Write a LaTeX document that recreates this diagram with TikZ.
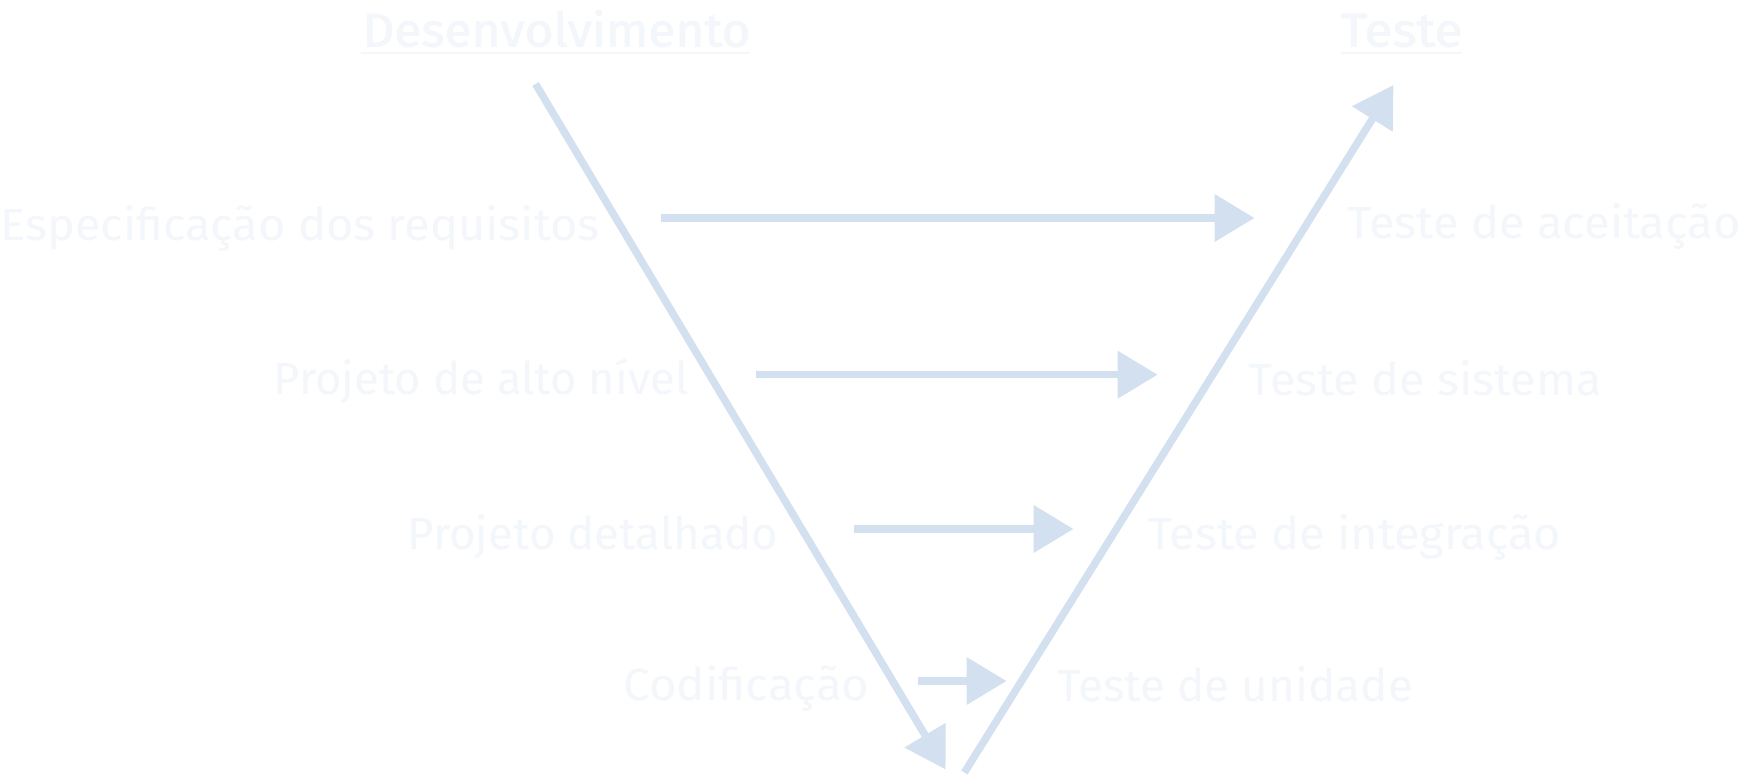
\documentclass[tikz,border=0pt]{standalone}
\usepackage{fontspec}
\setmainfont{Fira Sans}
\newfontfamily\medfont[FakeBold=1.6]{Fira Sans}
\usepackage{graphicx}
\usetikzlibrary{arrows.meta}
\definecolor{txt}{RGB}{243,246,250}
\definecolor{arr}{RGB}{211,224,239}
\newcommand{\fitw}[2]{\resizebox{#1pt}{\height}{#2}}
\tikzset{
  lbl/.style={anchor=base west, inner sep=0pt, outer sep=0pt, text=txt,
    font=\fontsize{45}{54}\selectfont},
  ttl/.style={anchor=base west, inner sep=0pt, outer sep=0pt, text=txt,
    font=\medfont\fontsize{47}{56}\selectfont},
  uline/.style={draw=txt, line width=2pt},
  flow/.style={draw=arr, line width=7.5pt,
    -{Triangle[length=40pt, width=46pt]}},
}
\begin{document}
\begin{tikzpicture}[x=1pt, y=-1pt]
\useasboundingbox[fill=white] (0,0) rectangle (1742,774);

% titles
\node[ttl] (dev) at (362.5,46.5) {\fitw{388}{Desenvolvimento}};
\node[ttl] (tst) at (1340.5,46.5) {\fitw{122}{Teste}};
\coordinate (devL) at (361,53.3);
\coordinate (devR) at (750,53.3);
\coordinate (tstL) at (1341,53.3);
\coordinate (tstR) at (1462,53.3);
\path[uline] (devL) -- (devR);
\path[uline] (tstL) -- (tstR);

% left labels
\node[lbl] (req) at (0.5,240.7) {\fitw{599}{Especificação dos requisitos}};
\node[lbl] (alto) at (273.5,394.3) {\fitw{415}{Projeto de alto nível}};
\node[lbl] (det) at (407.5,549) {\fitw{371}{Projeto detalhado}};
\node[lbl] (cod) at (623.5,700.5) {\fitw{246}{Codificação}};

% right labels
\node[lbl] (acc) at (1347.5,238.5) {\fitw{393}{Teste de aceitação}};
\node[lbl] (sis) at (1248.5,395) {\fitw{353}{Teste de sistema}};
\node[lbl] (int) at (1148,549) {\fitw{413}{Teste de integração}};
\node[lbl] (uni) at (1057,701.5) {\fitw{356}{Teste de unidade}};

% V arrows
\coordinate (vTop) at (535.6,84);
\coordinate (vBot) at (945.6,769.5);
\coordinate (wBot) at (964.4,772.5);
\coordinate (wTop) at (1393.5,85);
\path[flow] (vTop) -- (vBot);
\path[flow] (wBot) -- (wTop);

% horizontal arrows
\coordinate (h1s) at (661,218);
\coordinate (h1e) at (1254.5,218);
\coordinate (h2s) at (755.7,374.7);
\coordinate (h2e) at (1157.6,374.7);
\coordinate (h3s) at (854,529);
\coordinate (h3e) at (1073.5,529);
\coordinate (h4s) at (918,681);
\coordinate (h4e) at (1006.5,681);
\path[flow] (h1s) -- (h1e);
\path[flow] (h2s) -- (h2e);
\path[flow] (h3s) -- (h3e);
\path[flow] (h4s) -- (h4e);
\end{tikzpicture}
\end{document}
